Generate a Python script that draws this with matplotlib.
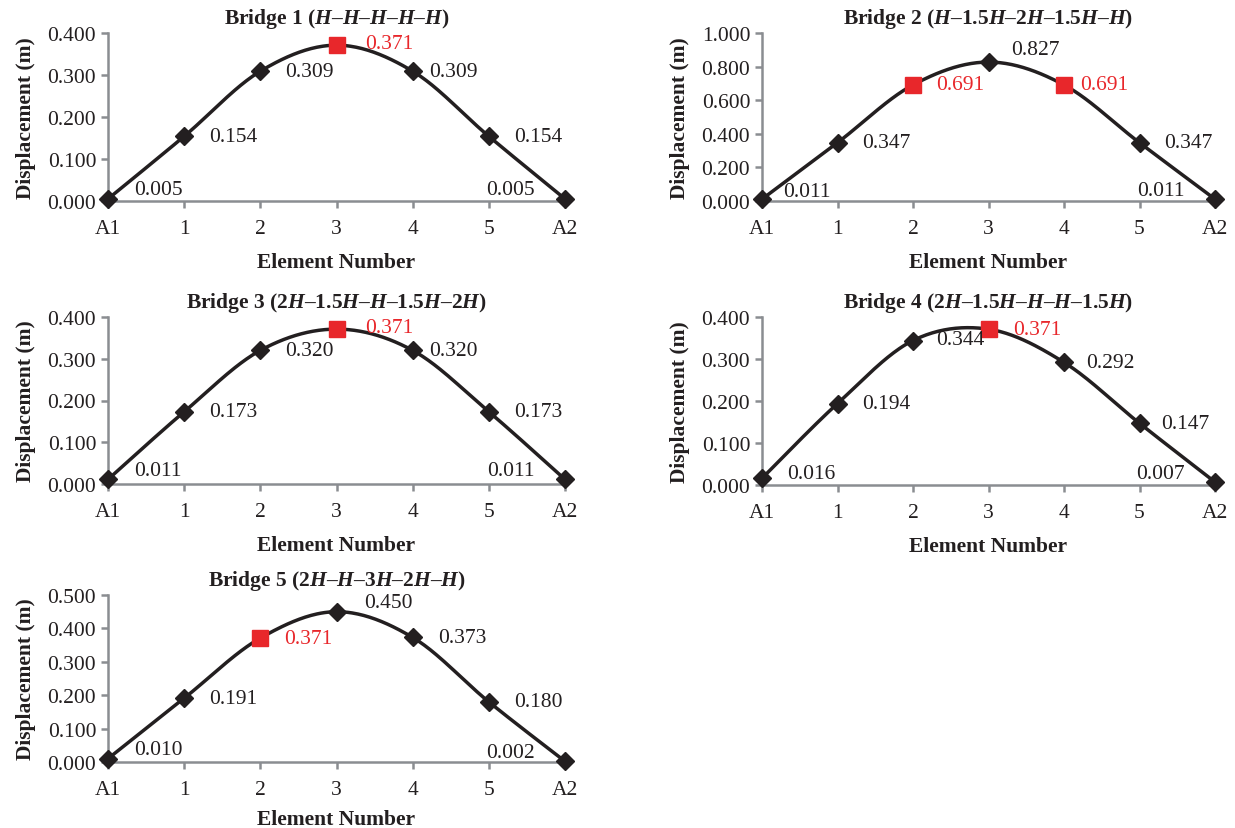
import numpy as np
import matplotlib
matplotlib.use("Agg")
import matplotlib.pyplot as plt

plt.rcParams['font.family'] = 'Liberation Serif'
plt.rcParams['mathtext.fontset'] = 'custom'
plt.rcParams['mathtext.rm'] = 'Liberation Serif:bold'
plt.rcParams['mathtext.it'] = 'Liberation Serif:italic:bold'
plt.rcParams['mathtext.bf'] = 'Liberation Serif:bold'

# data
elements = ['A1', '1', '2', '3', '4', '5', 'A2']
bridge1 = [0.005, 0.154, 0.309, 0.371, 0.309, 0.154, 0.005]
bridge2 = [0.011, 0.347, 0.691, 0.827, 0.691, 0.347, 0.011]
bridge3 = [0.011, 0.173, 0.320, 0.371, 0.320, 0.173, 0.011]
bridge4 = [0.016, 0.194, 0.344, 0.371, 0.292, 0.147, 0.007]
bridge5 = [0.010, 0.191, 0.371, 0.450, 0.373, 0.180, 0.002]
titles = [
    'Bridge 1 ($H$\u2013$H$\u2013$H$\u2013$H$\u2013$H$)',
    'Bridge 2 ($H$\u20131.5$H$\u20132$H$\u20131.5$H$\u2013$H$)',
    'Bridge 3 (2$H$\u20131.5$H$\u2013$H$\u20131.5$H$\u20132$H$)',
    'Bridge 4 (2$H$\u20131.5$H$\u2013$H$\u2013$H$\u20131.5$H$)',
    'Bridge 5 (2$H$\u2013$H$\u20133$H$\u20132$H$\u2013$H$)',
]
highlight = [[3], [2, 4], [3], [3], [2]]
ymax = [0.4, 1.0, 0.4, 0.4, 0.5]
ystep = [0.1, 0.2, 0.1, 0.1, 0.1]

# label offsets (pixels), default is to the right of the point
label_offsets = [
    {0: (26, 9), 3: (29, 2), 4: (16, 0), 6: (-30, 9)},
    {0: (21, 8), 2: (23, 0), 3: (23, 13), 4: (16, 0), 6: (-30, 9)},
    {0: (26, 9), 3: (29, 2), 4: (16, 0), 6: (-30, 9)},
    {0: (25, 5), 2: (23, 1), 4: (22, 0), 5: (22, 0), 6: (-30, 9)},
    {0: (26, 9), 2: (24, 0), 3: (28, 9), 6: (-30, 9)},
]

W, H = 1235, 829
boxes = [(108, 565, 34, 202), (762, 1215, 34, 202),
         (108, 565, 318, 485), (762, 1215, 318, 486),
         (108, 565, 596, 763)]
xlabelpads = [10, 10, 10, 10, 7]

black = '#231f20'
red = '#e8272b'
grey = '#8a8d91'
fs = 15.5


def smooth(x, y, n=40):
    # Excel-style smoothed line (Catmull-Rom bezier)
    p = np.column_stack([x, y]).astype(float)
    out = []
    for i in range(len(p) - 1):
        p0 = p[max(i - 1, 0)]
        p1 = p[i]
        p2 = p[i + 1]
        p3 = p[min(i + 2, len(p) - 1)]
        c1 = p1 + (p2 - p0) / 6
        c2 = p2 - (p3 - p1) / 6
        t = np.linspace(0, 1, n)[:, None]
        seg = ((1 - t) ** 3 * p1 + 3 * (1 - t) ** 2 * t * c1
               + 3 * (1 - t) * t ** 2 * c2 + t ** 3 * p2)
        out.append(seg)
    out = np.vstack(out)
    return out[:, 0], out[:, 1]


fig = plt.figure(figsize=(W / 100, H / 100), dpi=100)
series = [bridge1, bridge2, bridge3, bridge4, bridge5]
x = np.arange(len(elements))

for k, vals in enumerate(series):
    l, r, t, b = boxes[k]
    ax = fig.add_axes([l / W, 1 - b / H, (r - l) / W, (b - t) / H])
    sx, sy = smooth(x, vals)
    ax.plot(sx, sy, color=black, lw=2.5, clip_on=False, zorder=3)
    normal = [i for i in x if i not in highlight[k]]
    ax.plot(x[normal], np.array(vals)[normal], 'D', color=black, ms=9.5,
            clip_on=False, zorder=4)
    ax.plot(x[highlight[k]], np.array(vals)[highlight[k]], 's', color=red,
            ms=12, clip_on=False, zorder=5)
    for i, v in enumerate(vals):
        dx, dy = label_offsets[k].get(i, (25, 0))
        ax.annotate('%.3f' % v, (i, v), xytext=(dx, dy),
                    textcoords='offset pixels', ha='left' if dx > 0 else 'right',
                    va='center', fontsize=fs,
                    color=red if i in highlight[k] else black, zorder=6)
    ax.set_xlim(0, 6)
    ax.set_ylim(0, ymax[k])
    ax.set_xticks(x)
    ax.set_xticklabels(elements)
    ax.set_yticks(np.arange(0, ymax[k] + 1e-9, ystep[k]))
    ax.yaxis.set_major_formatter(matplotlib.ticker.FormatStrFormatter('%.3f'))
    for s in ['top', 'right']:
        ax.spines[s].set_visible(False)
    for s in ['left', 'bottom']:
        ax.spines[s].set_color(grey)
        ax.spines[s].set_linewidth(1.8)
    ax.tick_params(colors=grey, labelcolor=black, labelsize=fs, width=1.8,
                   length=5, direction='out')
    ax.tick_params(axis='x', pad=8)
    ax.set_xlabel('Element Number', fontsize=fs, fontweight='bold',
                  color=black, labelpad=xlabelpads[k])
    ax.set_ylabel('Displacement (m)', fontsize=fs, fontweight='bold',
                  color=black, labelpad=8)
    ax.set_title(titles[k], fontsize=fs, fontweight='bold', color=black,
                 pad=7)

fig.savefig('out.png', dpi=100)
